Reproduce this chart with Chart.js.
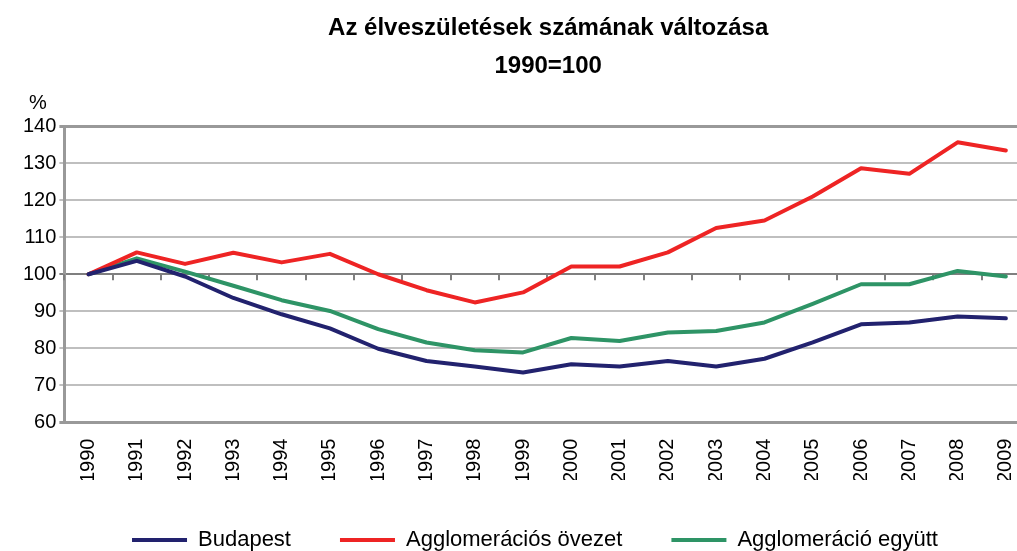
<!DOCTYPE html>
<html>
<head>
<meta charset="utf-8">
<script src="https://cdn.jsdelivr.net/npm/chart.js@4"></script>
<style>
  html, body { margin: 0; padding: 0; background: #fff; overflow: hidden; }
  #wrap { width: 1040px; height: 551px; }
</style>
</head>
<body>
<div id="wrap"><canvas id="birthChart" width="1040" height="551"></canvas></div>
<script>
const years = ['1990', '1991', '1992', '1993', '1994', '1995', '1996', '1997', '1998', '1999',
               '2000', '2001', '2002', '2003', '2004', '2005', '2006', '2007', '2008', '2009'];

const budapest = [100, 103.6, 99.4, 93.6, 89.2, 85.4, 79.9, 76.6, 75.1, 73.5,
                  75.7, 75.1, 76.6, 75.1, 77.2, 81.6, 86.5, 87.0, 88.6, 88.1];

const ovezet = [100, 105.9, 102.8, 105.8, 103.2, 105.5, 100, 95.7, 92.4, 95.1,
                102.1, 102.1, 105.9, 112.5, 114.5, 121.0, 128.6, 127.1, 135.6, 133.4];

const egyutt = [100, 104.3, 100.7, 96.9, 93.0, 90.1, 85.2, 81.6, 79.5, 78.9,
                82.8, 82.0, 84.3, 84.7, 87.0, 92.0, 97.3, 97.3, 100.9, 99.4];

const yTicks = [60, 70, 80, 90, 100, 110, 120, 130, 140];

const titleLines = ['Az élveszületések számának változása', '1990=100'];

Chart.defaults.font.family = '"Liberation Sans", Arial, sans-serif';
Chart.defaults.color = '#000';

// title, "%" and the small ticks on the 100 line
const extras = {
    id: 'extras',
    afterLayout(chart) {
        // legend sits a bit right of centre in the original
        chart.legend.left += 10;
        chart.legend.right += 10;
    },
    beforeDatasetsDraw(chart) {
        const c = chart.ctx;
        const x = chart.scales.x;
        const y100 = chart.scales.y.getPixelForValue(100);
        const step = x.getPixelForValue(1) - x.getPixelForValue(0);
        c.save();
        c.strokeStyle = '#7f7f7f';
        c.lineWidth = 2;
        c.beginPath();
        for (let i = 0; i <= years.length; i++) {
            const px = Math.round(x.getPixelForValue(i) - step / 2);
            c.moveTo(px, y100);
            c.lineTo(px, y100 + 6);
        }
        c.stroke();
        c.restore();
    },
    afterDraw(chart) {
        const c = chart.ctx;
        const a = chart.chartArea;
        c.save();
        c.fillStyle = '#000';
        c.textAlign = 'center';
        c.textBaseline = 'middle';
        c.font = 'bold 24px "Liberation Sans", Arial, sans-serif';
        const cx = (a.left + a.right) / 2 + 1;
        c.fillText(titleLines[0], cx, 28);
        c.fillText(titleLines[1], cx, 66);
        c.font = '20px "Liberation Sans", Arial, sans-serif';
        c.fillText('%', 38, 103);
        c.restore();
    }
};

function line(label, data, color) {
    return {
        label: label,
        data: data,
        borderColor: color,
        backgroundColor: color,
        borderWidth: 4,
        pointRadius: 0,
        tension: 0,
        borderJoinStyle: 'round',
        borderCapStyle: 'round'
    };
}

new Chart(document.getElementById('birthChart'), {
    type: 'line',
    data: {
        labels: years,
        datasets: [
            line('Budapest', budapest, '#22226e'),
            line('Agglomerációs övezet', ovezet, '#ee2424'),
            line('Agglomeráció együtt', egyutt, '#2e9466')
        ]
    },
    options: {
        responsive: false,
        animation: false,
        devicePixelRatio: 1,
        layout: { padding: { left: 20, top: 126, right: 10, bottom: -10 } },
        plugins: {
            legend: {
                position: 'bottom',
                labels: {
                    usePointStyle: true,
                    pointStyle: 'line',
                    pointStyleWidth: 55,
                    boxHeight: 4,
                    padding: 49,
                    font: { size: 22 }
                }
            },
            tooltip: { enabled: false }
        },
        scales: {
            x: {
                offset: true,
                grid: { display: false, drawTicks: false },
                border: { display: true, color: '#999', width: 3 },
                afterFit: axis => {
                    axis.height -= 19;
                    axis.paddingLeft = 0;
                    axis.paddingRight = 0;
                },
                ticks: {
                    minRotation: 90,
                    maxRotation: 90,
                    padding: 16,
                    font: { size: 20 }
                }
            },
            y: {
                min: 60,
                max: 140,
                afterBuildTicks: axis => { axis.ticks = yTicks.map(v => ({ value: v })); },
                border: { display: true, color: '#999', width: 3 },
                grid: {
                    tickLength: 5,
                    color: ctx => {
                        const v = ctx.tick.value;
                        if (v === 60 || v === 140) return '#999';
                        if (v === 100) return '#7f7f7f';
                        return '#bfbfbf';
                    },
                    lineWidth: ctx => {
                        const v = ctx.tick.value;
                        return (v === 60 || v === 140) ? 3 : 2;
                    }
                },
                ticks: {
                    padding: 3,
                    font: { size: 20 }
                }
            }
        }
    },
    plugins: [extras]
});
</script>
</body>
</html>
